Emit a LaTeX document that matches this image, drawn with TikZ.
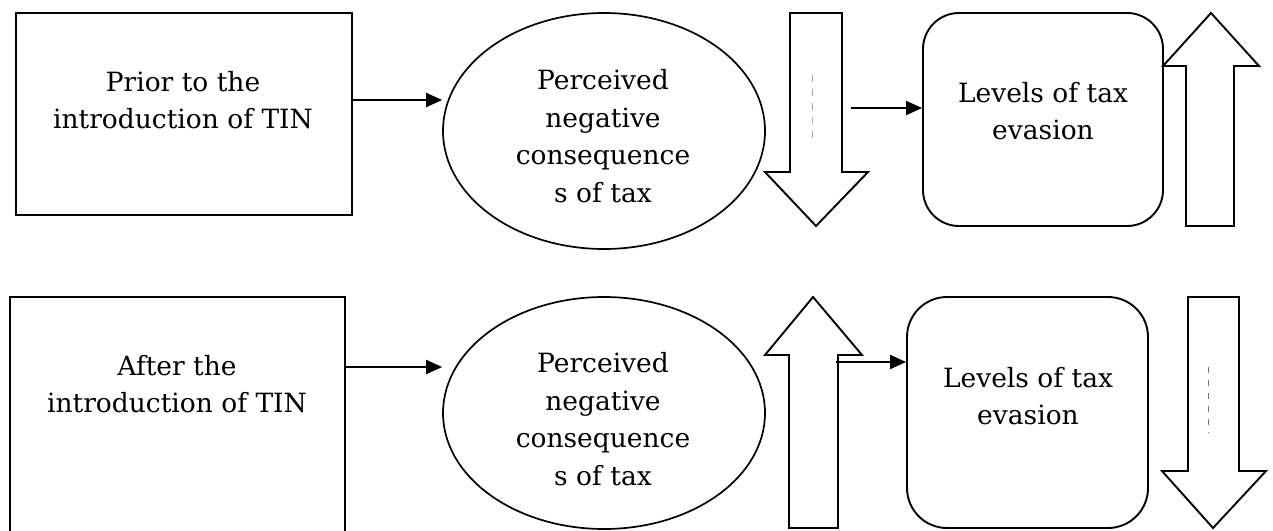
\documentclass[tikz,border=0pt]{standalone}
\usepackage{fontspec}
\setmainfont{DejaVu Serif}
\usetikzlibrary{arrows.meta,shapes.geometric}
\begin{document}
\begin{tikzpicture}[x=1pt,y=-1pt,
  plainbox/.style={draw, line width=2pt, rectangle, inner sep=0pt},
  ovalbox/.style={draw, line width=1.7pt, ellipse, inner sep=0pt},
  roundbox/.style={draw, line width=1.9pt, rectangle, rounded corners=36pt, inner sep=0pt},
  label text/.style={font=\fontsize{26.5}{37.5}\selectfont, align=center, inner sep=0pt},
  conn/.style={line width=2pt, -{Triangle[length=16pt,width=14pt]}},
  blockarrow/.style={draw, line width=1.9pt, fill=white, line join=miter},
  faintdash/.style={draw=black!35, line width=0.8pt, dash pattern=on 7pt off 7pt}
]
\clip (0,0) rectangle (1273,530);
\fill[white] (0,0) rectangle (1273,530);

% ---------- top row ----------
\node[plainbox, minimum width=336pt, minimum height=202pt] (box1) at (184,114) {};
\node[label text] (box1t) at (183,100) {Prior to the\\introduction of TIN};

\node[ovalbox, minimum width=322pt, minimum height=236pt] (ell1) at (604,131) {};
\node[label text] (ell1t) at (603,136) {Perceived\\negative\\consequence\\s of tax};

\node[roundbox, minimum width=240pt, minimum height=213pt] (rbox1) at (1043,119.5) {};
\node[label text] (rbox1t) at (1043,111) {Levels of tax\\evasion};

% down block arrow (top)
\draw[blockarrow] (790,13) -- (842,13) -- (842,172) -- (868,172) -- (816,226)
  -- (765,172) -- (790,172) -- cycle;
\draw[faintdash] (812,75) -- (812,140);
% up block arrow (top)
\draw[blockarrow] (1211,13) -- (1259,66) -- (1234,66) -- (1234,226) -- (1186,226)
  -- (1186,66) -- (1163,66) -- cycle;

\coordinate (y1) at (0,100);
\coordinate (s1) at (851,108);
\draw[conn] (box1.east |- y1) -- (ell1.west |- y1);
\draw[conn] (s1) -- (rbox1.west |- s1);

% ---------- bottom row ----------
\node[plainbox, minimum width=335pt, minimum height=260pt] (box2) at (177.5,427) {};
\node[label text] (box2t) at (177,384) {After the\\introduction of TIN};

\node[ovalbox, minimum width=322pt, minimum height=232pt] (ell2) at (604,413) {};
\node[label text] (ell2t) at (603,419) {Perceived\\negative\\consequence\\s of tax};

\node[roundbox, minimum width=241pt, minimum height=231pt, rounded corners=40pt] (rbox2) at (1027.5,412.5) {};
\node[label text] (rbox2t) at (1028,396) {Levels of tax\\evasion};

% up block arrow (bottom)
\draw[blockarrow] (813,297) -- (862,355) -- (838,355) -- (838,528) -- (789,528)
  -- (789,355) -- (765,355) -- cycle;
% down block arrow (bottom)
\draw[blockarrow] (1188,297) -- (1239,297) -- (1239,471) -- (1266,471) -- (1213,528)
  -- (1162,471) -- (1188,471) -- cycle;
\draw[faintdash, draw=black!55, dash pattern=on 6pt off 7pt] (1208,367) -- (1208,433);

\coordinate (y2) at (0,367);
\coordinate (s2) at (836,362);
\draw[conn] (box2.east |- y2) -- (ell2.west |- y2);
\draw[conn] (s2) -- (rbox2.west |- s2);
\end{tikzpicture}
\end{document}
